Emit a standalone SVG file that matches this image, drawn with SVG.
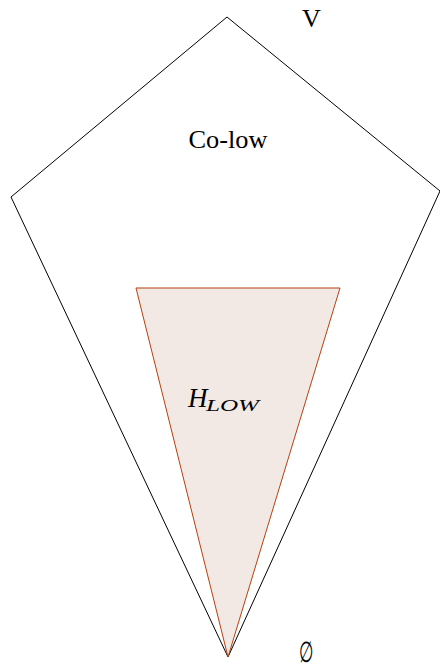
<svg xmlns="http://www.w3.org/2000/svg" width="440" height="668" viewBox="0 0 440 668">
<style>
.t{font-family:"Liberation Serif","Times New Roman","DejaVu Serif",serif;fill:#000}
.outer{fill:none;stroke:#000;stroke-width:1}
.inner{fill:#f3e9e4;stroke:#b5400f;stroke-width:1}
</style>
<rect width="440" height="668" fill="#fff"/>
<g id="colow">
<polygon class="outer" points="227,17 440,191 228,657 11,197"/>
<text class="t" x="228" y="148" font-size="25" text-anchor="middle" textLength="79" lengthAdjust="spacingAndGlyphs">Co-low</text>
</g>
<g id="hlow">
<polygon class="inner" points="136,288 340,288 228,657"/>
<text class="t" x="188" y="407" font-size="27" font-style="italic">H</text>
<text class="t" x="206" y="411" font-size="16" font-style="italic" textLength="53" lengthAdjust="spacingAndGlyphs">LOW</text>
</g>
<g id="labels">
<text class="t" x="302" y="27" font-size="26">V</text>
<text class="t" x="306" y="662" font-size="28" text-anchor="middle" transform="translate(306 652) scale(0.6 1.05) translate(-306 -652)">∅</text>
</g>
</svg>
